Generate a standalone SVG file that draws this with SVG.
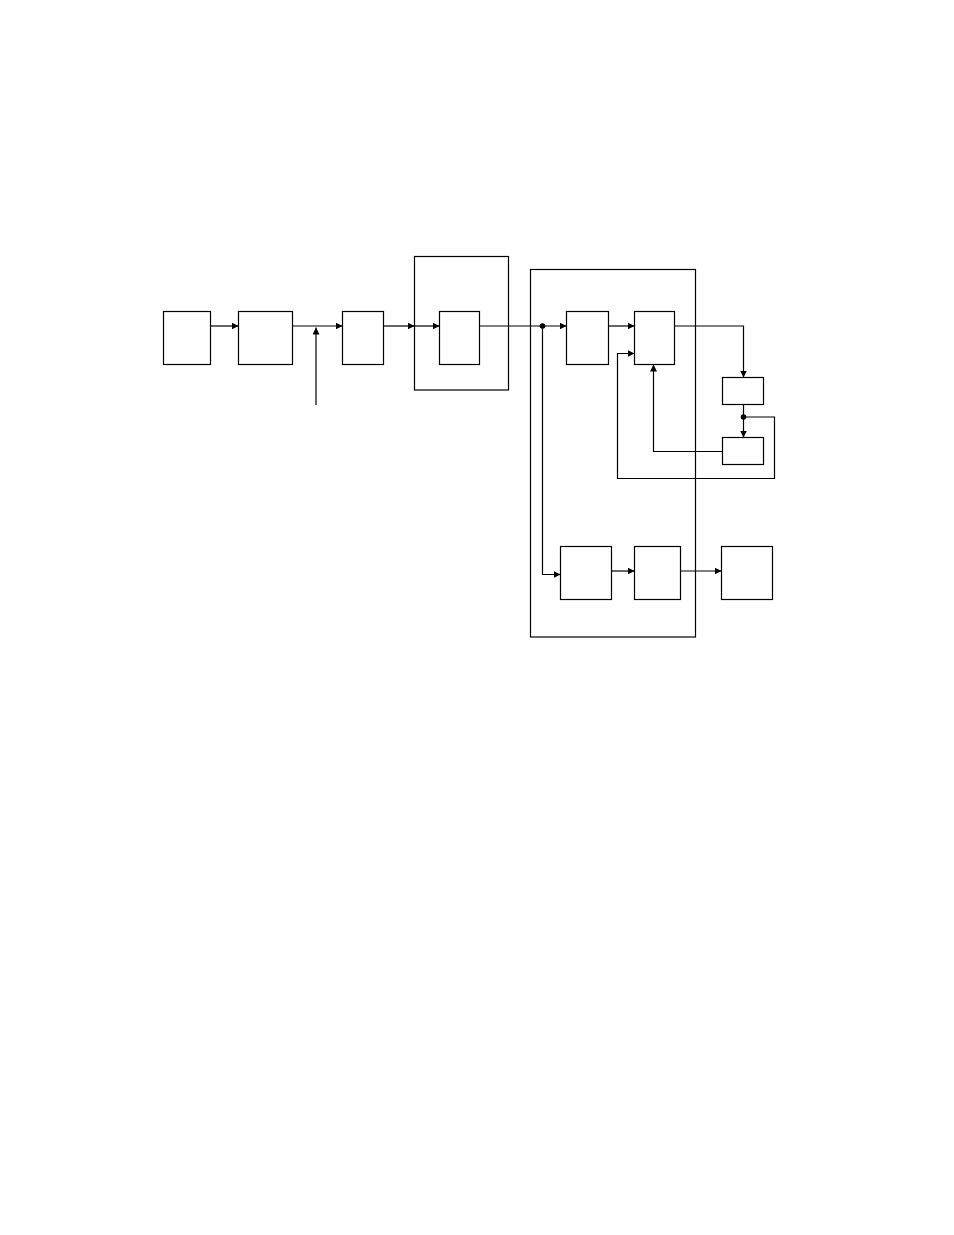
<svg xmlns="http://www.w3.org/2000/svg" width="954" height="1235" viewBox="0 0 954 1235">
<style>
.box{fill:none;stroke:#000;stroke-width:1.2}
.ln{fill:none;stroke:#000;stroke-width:1.2}
.arr{marker-end:url(#ah)}
</style>
<defs>
<marker id="ah" viewBox="0 0 8 8" refX="8" refY="4" markerWidth="7" markerHeight="7" markerUnits="userSpaceOnUse" orient="auto">
<path d="M0,0 L8,4 L0,8 Z" fill="#000"/>
</marker>
</defs>
<rect width="954" height="1235" fill="#fff"/>
<g id="node-a"><rect class="box" x="163.5" y="311.5" width="47" height="53"/></g>
<g id="node-b"><rect class="box" x="238.5" y="311.5" width="54" height="53"/></g>
<g id="node-c"><rect class="box" x="342.5" y="311.5" width="41" height="53"/></g>
<g id="node-d"><rect class="box" x="414.5" y="256.5" width="94" height="133.5"/></g>
<g id="node-e"><rect class="box" x="439.5" y="311.5" width="40" height="53"/></g>
<g id="node-f"><rect class="box" x="530.5" y="269.5" width="165" height="367.5"/></g>
<g id="node-g"><rect class="box" x="566.5" y="311.5" width="42" height="53"/></g>
<g id="node-h"><rect class="box" x="634.5" y="311.5" width="40" height="53"/></g>
<g id="node-i"><rect class="box" x="722.5" y="377.5" width="41" height="27"/></g>
<g id="node-j"><rect class="box" x="722.5" y="437.5" width="41" height="27"/></g>
<g id="node-k"><rect class="box" x="560.5" y="546.5" width="51" height="53"/></g>
<g id="node-l"><rect class="box" x="634.5" y="546.5" width="46" height="53"/></g>
<g id="node-m"><rect class="box" x="721.5" y="546.5" width="51" height="53"/></g>
<g id="connectors">
<path class="ln arr" d="M210.5,326 H238.5"/>
<path class="ln arr" d="M292.5,326 H342.5"/>
<path class="ln arr" d="M316,405 V327.5"/>
<path class="ln arr" d="M383.5,326 H414.5"/>
<path class="ln arr" d="M414.5,326 H439.5"/>
<path class="ln arr" d="M479.5,326 H566.5"/>
<circle cx="542.5" cy="326" r="2.8" fill="#000"/>
<path class="ln arr" d="M542.5,326 V574.5 H560.5"/>
<path class="ln arr" d="M608.5,326 H634.5"/>
<path class="ln arr" d="M674.5,326 H743.5 V377.5"/>
<path class="ln arr" d="M743.5,404.5 V437.5"/>
<circle cx="743.5" cy="417" r="2.8" fill="#000"/>
<path class="ln arr" d="M743.5,417 H774.5 V478.5 H617.5 V353.5 H634.5"/>
<path class="ln arr" d="M722.5,451.5 H653.5 V364.5"/>
<path class="ln arr" d="M611.5,571 H634.5"/>
<path class="ln arr" d="M680.5,571 H721.5"/>
</g>
</svg>
